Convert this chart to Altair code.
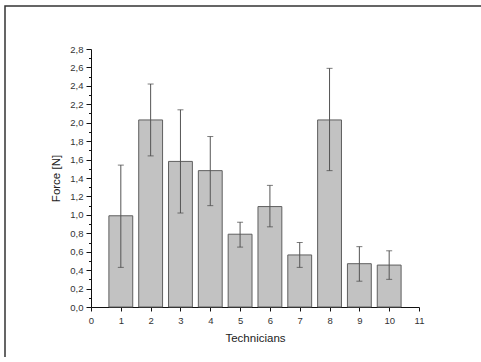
import altair as alt
import pandas as pd

technicians = [1, 2, 3, 4, 5, 6, 7, 8, 9, 10]
force = [0.99, 2.03, 1.58, 1.48, 0.79, 1.09, 0.565, 2.03, 0.47, 0.455]
err_low = [0.43, 1.64, 1.02, 1.10, 0.65, 0.87, 0.43, 1.48, 0.28, 0.30]
err_high = [1.54, 2.42, 2.14, 1.85, 0.92, 1.32, 0.70, 2.59, 0.655, 0.61]

df = pd.DataFrame({"tech": technicians, "force": force, "lo": err_low, "hi": err_high})

FONT = "Liberation Sans"

xscale = alt.Scale(domain=[0, 11], nice=False, zero=False)
yscale = alt.Scale(domain=[0, 2.8], nice=False)

y_ticks = [round(i * 0.1, 1) for i in range(0, 29)]

x_axis = alt.Axis(values=list(range(0, 12)), title="Technicians", grid=False,
                  tickSize=4, labelPadding=4, titlePadding=8, domainColor="#111",
                  tickColor="#111", labelColor="#333", titleColor="#222",
                  labelFontSize=9.5, titleFontSize=11.5, labelFont=FONT, titleFont=FONT,
                  titleFontWeight="normal", labelFlush=False, labelOverlap=False)
y_axis = alt.Axis(values=y_ticks, title="Force [N]", grid=False,
                  tickSize={"condition": {"test": "round(datum.value*10) % 2 == 1", "value": 2.5}, "value": 5},
                  labelExpr="round(datum.value*10) % 2 == 1 ? '' : replace(format(datum.value, '.1f'), '.', ',')",
                  labelPadding=3, titlePadding=8, domainColor="#111", tickColor="#111",
                  labelColor="#333", titleColor="#222", labelFontSize=9.5, titleFontSize=11.5,
                  labelFont=FONT, titleFont=FONT, titleFontWeight="normal", labelFlush=False,
                  labelOverlap=False)

base = alt.Chart(df)

bars = base.transform_calculate(
    left="datum.tech - 0.4", right="datum.tech + 0.4"
).mark_bar(color="#c2c2c2", stroke="#5f5f5f", strokeWidth=1).encode(
    x=alt.X("left:Q", scale=xscale, axis=x_axis),
    x2="right:Q",
    y=alt.Y("force:Q", scale=yscale, axis=y_axis),
    y2=alt.datum(0),
)

rules = base.mark_rule(color="#555", strokeWidth=1).encode(
    x=alt.X("tech:Q", scale=xscale, axis=x_axis),
    y=alt.Y("lo:Q", scale=yscale, axis=y_axis),
    y2="hi:Q",
)
cap_lo = base.mark_tick(color="#444", orient="horizontal", size=6, thickness=1).encode(
    x=alt.X("tech:Q", scale=xscale, axis=x_axis), y=alt.Y("lo:Q", scale=yscale, axis=y_axis)
)
cap_hi = base.mark_tick(color="#444", orient="horizontal", size=6, thickness=1).encode(
    x=alt.X("tech:Q", scale=xscale, axis=x_axis), y=alt.Y("hi:Q", scale=yscale, axis=y_axis)
)

frame = alt.Chart(pd.DataFrame({"a": [0]})).mark_rect(
    fill="transparent", stroke="#333", strokeWidth=1.5
).encode(
    x=alt.value(-86), x2=alt.value(400), y=alt.value(-43), y2=alt.value(330)
)

chart = alt.layer(bars, rules, cap_lo, cap_hi, frame).properties(
    width=328, height=258,
    autosize=alt.AutoSizeParams(type="none"),
    padding={"left": 91, "top": 49, "right": 62, "bottom": 50},
    background="white",
).configure_view(stroke=None)

chart.save("out.html", embed_options={"renderer": "svg", "actions": False})
